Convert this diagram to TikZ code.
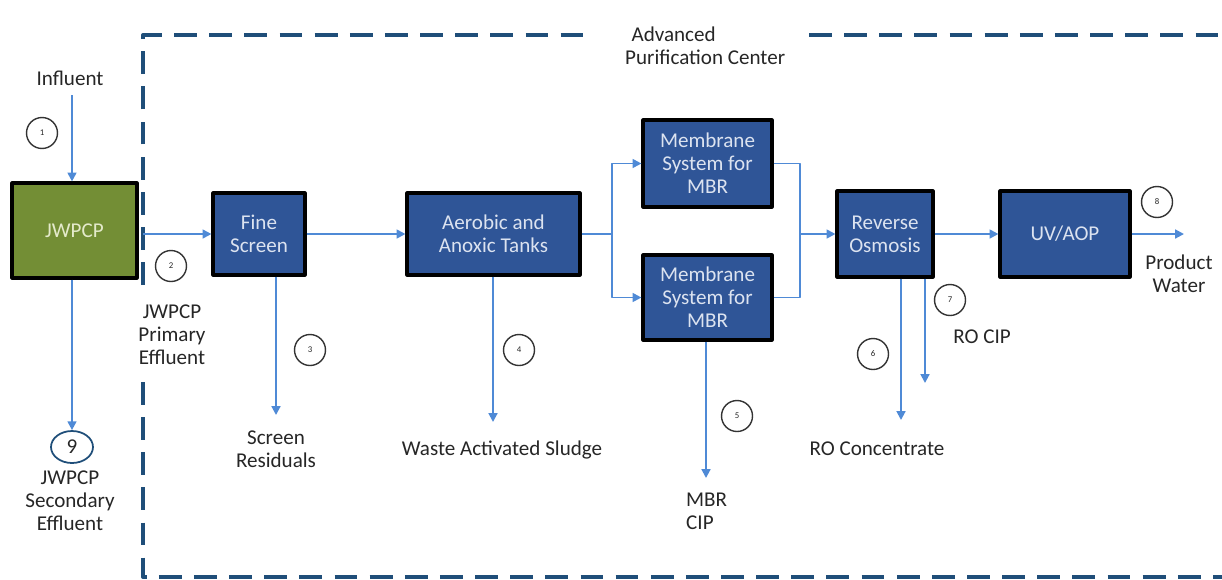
\documentclass[tikz,border=0pt]{standalone}
\usepackage{fontspec}
\setmainfont{Carlito}
\usepackage{xcolor}
\usetikzlibrary{arrows.meta,shapes.geometric}
\definecolor{boxblue}{HTML}{2F5597}
\definecolor{boxtext}{HTML}{DCE3F0}
\definecolor{jwgreen}{HTML}{738E35}
\definecolor{jwtext}{HTML}{E4EACB}
\definecolor{flowblue}{HTML}{4F8AD6}
\definecolor{navy}{HTML}{1F4E79}

\begin{document}
\begin{tikzpicture}[x=0.02cm,y=-0.02cm,>={Triangle[length=5pt,width=5pt]},line join=round,
  every node/.style={font=\fontsize{12}{13}\selectfont,align=center,text=black!85},
  unit/.style={draw=black,line width=1.8pt,fill=boxblue,text=boxtext,inner sep=0pt},
  flow/.style={->,flowblue,line width=1.1pt},
  tag/.style={circle,draw=black!80,line width=0.8pt,minimum size=0.62cm,inner sep=0pt,font=\fontsize{5}{6}\selectfont},
  fence/.style={navy,line width=2.3pt,dash pattern=on 13pt off 7pt}]
  \useasboundingbox (0,0) rectangle (1222,579);
  % plant boundary
  \draw[fence] (143,285) -- (143,35) -- (595,35);
  \draw[fence] (809,35) -- (1222,35);
  \draw[fence] (143,382) -- (143,577) -- (1222,577);
  \node[anchor=west,align=left] (apc) at (619,46) {\hspace*{0.3em}Advanced\\Purification Center};
  % process units
  \node[draw=black,line width=1.8pt,fill=jwgreen,text=jwtext,minimum width=2.5cm,minimum height=1.9cm] (jwpcp) at (74.5,230.5) {JWPCP};
  \node[unit,minimum width=1.84cm,minimum height=1.64cm] (fine) at (259,234) {Fine\\Screen};
  \node[unit,minimum width=3.46cm,minimum height=1.64cm] (aer) at (493.5,234) {Aerobic and\\Anoxic Tanks};
  \node[unit,minimum width=2.58cm,minimum height=1.74cm] (mbrA) at (707.5,163.5) {Membrane\\System for\\MBR};
  \node[unit,minimum width=2.58cm,minimum height=1.7cm] (mbrB) at (707.5,297.5) {Membrane\\System for\\MBR};
  \node[unit,minimum width=1.92cm,minimum height=1.72cm] (ro) at (885,234) {Reverse\\Osmosis};
  \node[unit,minimum width=2.6cm,minimum height=1.72cm] (uv) at (1065,234) {UV/AOP};
  % streams
  \node (influent) at (70,78) {Influent};
  \node[tag] (t1) at (42,133) {1};
  \draw[flow] (72,95) -- (jwpcp.north -| 72,0);
  \coordinate (pe) at (143,234);
  \draw[flow] (pe) -- (fine.west);
  \node[tag] (t2) at (171,266) {2};
  \node (primary) at (172,335) {JWPCP\\Primary\\Effluent};
  \node[ellipse,draw=navy,line width=1pt,minimum width=0.84cm,minimum height=0.64cm,inner sep=0pt] (t9) at (72,447) {9};
  \draw[flow] (jwpcp.south -| 72,0) -- (t9.north);
  \node (secondary) at (70,501) {JWPCP\\Secondary\\Effluent};
  \draw[flow] (fine) -- (aer);
  \coordinate (scr) at (276,415);
  \draw[flow] (fine.south -| scr) -- (scr);
  \node[tag] (t3) at (310,350) {3};
  \node (screen) at (276,449) {Screen\\Residuals};
  \coordinate (was) at (493,422);
  \draw[flow] (aer.south -| was) -- (was);
  \node[tag] (t4) at (519,350) {4};
  \node (sludge) at (502,450) {Waste Activated Sludge};
  \coordinate (split) at (612,234);
  \draw[flowblue,line width=1.1pt] (aer.east) -- (split);
  \draw[flow] (split) |- (mbrA.west);
  \draw[flow] (split) |- (mbrB.west);
  \coordinate (join) at (800,234);
  \draw[flowblue,line width=1.1pt] (mbrA.east) -| (join) |- (mbrB.east);
  \draw[flow] (join) -- (ro.west);
  \coordinate (mcip) at (706,478);
  \draw[flow] (mbrB.south -| mcip) -- (mcip);
  \node[tag] (t5) at (737,416) {5};
  \node[align=left,anchor=west] (mbrcip) at (680,511) {MBR\\CIP};
  \draw[flow] (ro) -- (uv);
  \coordinate (prod) at (1184,234);
  \draw[flow] (uv.east) -- (prod);
  \node[tag] (t8) at (1157,202) {8};
  \node (product) at (1179,274) {Product\\Water};
  \coordinate (conc) at (901,420);
  \draw[flow] (ro.south -| conc) -- (conc);
  \coordinate (rocip) at (925,383);
  \draw[flow] (ro.south -| rocip) -- (rocip);
  \node[tag] (t6) at (873,354) {6};
  \node[tag] (t7) at (950,300) {7};
  \node (rocipl) at (982,337) {RO CIP};
  \node (roconc) at (877,449) {RO Concentrate};
\end{tikzpicture}
\end{document}
